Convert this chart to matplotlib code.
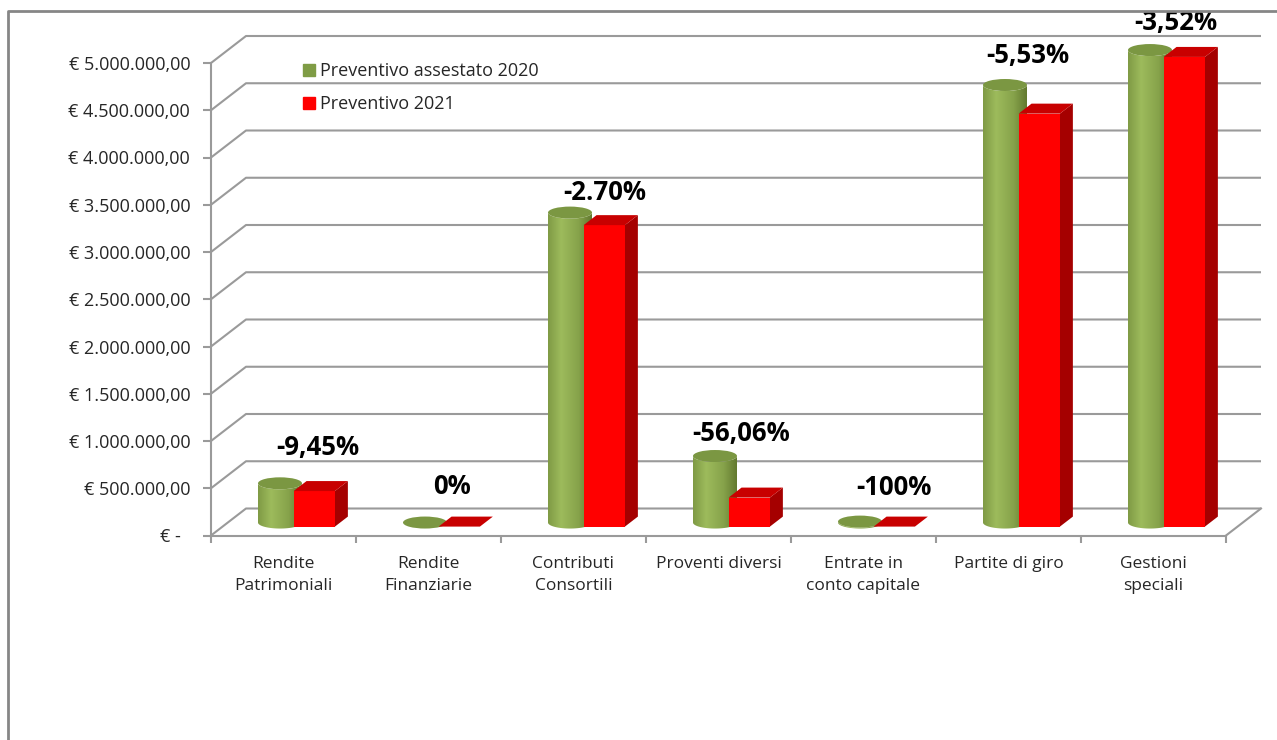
import numpy as np
import matplotlib.pyplot as plt
from matplotlib.patches import Polygon, Ellipse
from matplotlib.lines import Line2D
from matplotlib.colors import LinearSegmentedColormap
from matplotlib.ticker import FuncFormatter, FixedLocator

plt.rcParams['font.family'] = ['Open Sans', 'DejaVu Sans']

categories = ['Rendite\nPatrimoniali', 'Rendite\nFinanziarie', 'Contributi\nConsortili',
              'Proventi diversi', 'Entrate in\nconto capitale', 'Partite di giro',
              'Gestioni\nspeciali']
assestato_2020 = [415000, 0, 3280000, 704000, 10000, 4630000, 5000000]
preventivo_2021 = [376000, 0, 3190000, 307000, 0, 4370000, 4970000]
variazioni = ['-9,45%', '0%', '-2.70%', '-56,06%', '-100%', '-5,53%', '-3,52%']
series_names = ['Preventivo assestato 2020', 'Preventivo 2021']
y_ticks = np.arange(0, 5000001, 500000)

# layout, in pixels of the 1277x740 canvas
W, H = 1277, 740
X0_PX, Y0_PX = 211, 535.5      # front-left corner of the floor
CAT_PX = 145                   # width of one category
PX_PER_EUR = 94.5 / 1e6
DEPTH_X, DEPTH_Y = 35, 27      # oblique offset of the back wall
label_dx = [34, 24, 31, 23, 30, 19, 22]
label_dy = [28, 29, 13, 15, 27, 22, 20]


# px -> data helpers
def dx(px):
    return px / CAT_PX


def dy(px):
    return px / PX_PER_EUR


DX, DY = dx(DEPTH_X), dy(DEPTH_Y)
GRID = '#9a9a9a'
TXT = '#262626'

fig = plt.figure(figsize=(W / 100, H / 100), dpi=100)
ax = fig.add_axes([0, 0, 1, 1])
ax.set_xlim(-dx(X0_PX), dx(W - X0_PX))
ax.set_ylim(-dy(H - Y0_PX), dy(Y0_PX))
ax.set_facecolor('white')

n = len(categories)

# axes: left spine and floor edge placed in data coords
for s in ['top', 'right']:
    ax.spines[s].set_visible(False)
ax.spines['left'].set_position(('data', 0))
ax.spines['left'].set_bounds(0, y_ticks[-1])
ax.spines['bottom'].set_position(('data', 0))
ax.spines['bottom'].set_bounds(0, n)
for s in ['left', 'bottom']:
    ax.spines[s].set_color(GRID)
    ax.spines[s].set_linewidth(1.5)
    ax.spines[s].set_zorder(0.6)


def eur(v, pos):
    if v == 0:
        return '€ -  '
    s = f'{v:,.2f}'.replace(',', 'X').replace('.', ',').replace('X', '.')
    return '€ ' + s


ax.yaxis.set_major_locator(FixedLocator(y_ticks))
ax.yaxis.set_major_formatter(FuncFormatter(eur))
ax.tick_params(axis='y', length=6, width=1.5, color=GRID, pad=9, labelsize=13, labelcolor=TXT)

ax.set_xticks(np.arange(n) + 0.5)
ax.set_xticklabels(categories, fontsize=12.5, color=TXT, linespacing=1.45)
ax.set_xticks(np.arange(n + 1), minor=True)
ax.tick_params(axis='x', which='major', length=0, pad=15)
ax.tick_params(axis='x', which='minor', length=5, width=1.5, color=GRID)

# back wall gridlines with their oblique connectors
for v in y_ticks:
    ax.plot([0, DX, n + DX], [v, v + DY, v + DY], color=GRID, lw=1.5, zorder=0.5,
            solid_capstyle='butt')
ax.plot([n, n + DX], [0, DY], color=GRID, lw=1.5, zorder=0.5)

# bars
cyl_cmap = LinearSegmentedColormap.from_list(
    'cyl', [(0, '#7f9a45'), (0.3, '#9dbb5c'), (0.7, '#86a24a'), (1, '#62792f')])
CYL_X, CYL_D, CYL_RX, CYL_RY = 0.36, 0.48, dx(22), dy(6)
BOX_X0, BOX_X1, BOX_D0, BOX_D1 = 0.49, 0.775, 0.33, 0.70
ylim = ax.get_ylim()
xlim = ax.get_xlim()

for i in range(n):
    z = 10 + 4 * i
    # cylinder (2020)
    cx = i + CYL_X + CYL_D * DX
    y0 = CYL_D * DY
    h = assestato_2020[i]
    if h > 0:
        t = np.linspace(np.pi, 2 * np.pi, 80)
        bx, by = cx + CYL_RX * np.cos(t), y0 + CYL_RY * np.sin(t)
        tx, ty = bx[::-1], y0 + h + CYL_RY * np.sin(t[::-1])
        body = Polygon(np.column_stack([np.r_[bx, tx], np.r_[by, ty]]), closed=True,
                       facecolor='none', edgecolor='none', zorder=z)
        ax.add_patch(body)
        im = ax.imshow(np.linspace(0, 1, 256).reshape(1, -1), cmap=cyl_cmap, aspect='auto',
                       extent=[cx - CYL_RX, cx + CYL_RX, y0 - CYL_RY, y0 + h + CYL_RY],
                       interpolation='bilinear', zorder=z)
        im.set_clip_path(body)
    ax.add_patch(Ellipse((cx, y0 + h), 2 * CYL_RX, 2 * CYL_RY, facecolor='#7b9742',
                         edgecolor='none', zorder=z + 1))

    # box (2021)
    v = preventivo_2021[i]
    fx0 = i + BOX_X0 + BOX_D0 * DX
    fx1 = i + BOX_X1 + BOX_D0 * DX
    fy0 = BOX_D0 * DY
    ox, oy = (BOX_D1 - BOX_D0) * DX, (BOX_D1 - BOX_D0) * DY
    if v > 0:
        ax.add_patch(Polygon([[fx1, fy0], [fx1 + ox, fy0 + oy], [fx1 + ox, fy0 + oy + v],
                              [fx1, fy0 + v]], facecolor='#a50000', edgecolor='none', zorder=z + 2))
        ax.add_patch(Polygon([[fx0, fy0], [fx1, fy0], [fx1, fy0 + v], [fx0, fy0 + v]],
                             facecolor='#ff0000', edgecolor='none', zorder=z + 2))
    ax.add_patch(Polygon([[fx0, fy0 + v], [fx1, fy0 + v], [fx1 + ox, fy0 + oy + v],
                          [fx0 + ox, fy0 + oy + v]], facecolor='#c80000', edgecolor='none',
                         zorder=z + 3))

    # percentage label
    top = max(y0 + h, fy0 + v)
    ax.text(i + 0.5 + dx(label_dx[i]), top + dy(label_dy[i]), variazioni[i], ha='center',
            va='baseline', fontsize=18.5, fontweight='bold', color='black', zorder=50)

ax.set_xlim(xlim)
ax.set_ylim(ylim)

# legend on the back wall
handles = [Line2D([], [], marker='s', linestyle='none', markersize=8.5, color=c)
           for c in ['#7f9c45', '#ff0000']]
ax.legend(handles, series_names, loc='upper left', bbox_to_anchor=(304 / W, 1 - 62 / H),
          bbox_transform=fig.transFigure, frameon=False, fontsize=13, handlelength=0.6,
          handletextpad=0.3, labelspacing=0.85, borderpad=0, borderaxespad=0,
          labelcolor=TXT)

# chart frame (cropped on the right and bottom)
fig.add_artist(Line2D([8 / W, 8 / W, 1], [0, 1 - 11 / H, 1 - 11 / H],
                      transform=fig.transFigure, color='#868686', lw=2))

fig.savefig('out.png', dpi=100)
